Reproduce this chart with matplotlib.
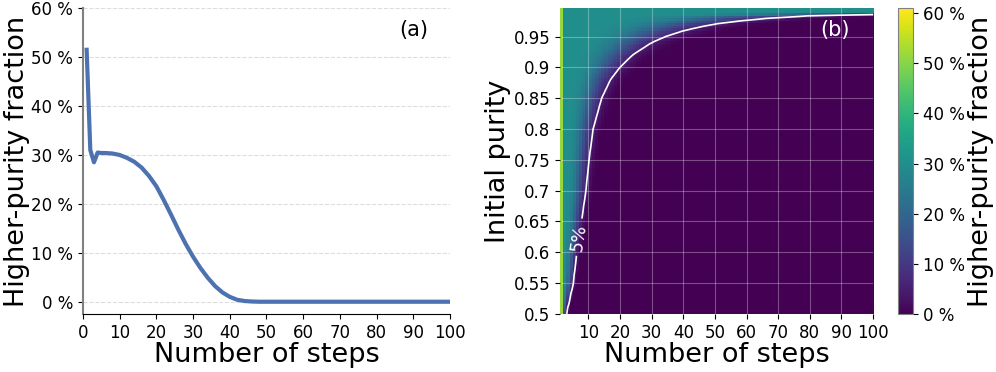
import numpy as np
import matplotlib
matplotlib.use('Agg')
import matplotlib.pyplot as plt
from matplotlib.ticker import FuncFormatter

# (a) higher-purity fraction vs number of steps (one initial purity)
steps_a = [1, 2, 3, 4, 5, 6, 8, 10, 12, 14, 16, 18, 20, 22, 24, 26, 28, 30,
           32, 34, 36, 38, 40, 42, 44, 46, 48, 50, 60, 70, 80, 90, 100]
frac_a = [0.515, 0.31, 0.285, 0.305, 0.304, 0.304, 0.303, 0.300, 0.294, 0.286,
          0.274, 0.257, 0.236, 0.208, 0.178, 0.147, 0.118, 0.092, 0.069, 0.049,
          0.032, 0.019, 0.010, 0.004, 0.0015, 0.0005, 0.0, 0.0, 0.0, 0.0, 0.0, 0.0, 0.0]

# (b) step at which the fraction falls to 5 %, per initial purity
purity_c = [0.50, 0.55, 0.60, 0.65, 0.70, 0.75, 0.80, 0.85, 0.88, 0.90, 0.92,
            0.94, 0.95, 0.96, 0.97, 0.975, 0.98, 0.985, 0.99, 0.996]
steps_5pct = [2.5, 4.7, 5.8, 7.3, 8.7, 9.7, 11.0, 13.7, 16.5, 19.5, 23.5,
              29.5, 34.0, 40.0, 49.0, 57.0, 67.0, 84.0, 140.0, 400.0]

steps_b = np.arange(1, 101)
purity_b = np.linspace(0.5, 0.996, 120)

# build the map: stretch the (a) profile so its 5 % point matches each row
ref5 = 34.0
n5 = np.interp(purity_b, purity_c, steps_5pct)
field = np.zeros((len(purity_b), len(steps_b)))
for i, n_cut in enumerate(n5):
    arg = np.maximum(steps_b * ref5 / n_cut, 5)
    field[i] = np.interp(arg, steps_a, frac_a)
    field[i, 0] = frac_a[0]

pct = FuncFormatter(lambda v, _: f'{v * 100:.0f} %')

fig = plt.figure(figsize=(9.96, 3.72), dpi=100)
ax1 = fig.add_axes([0.0833, 0.156, 0.3685, 0.822])
ax2 = fig.add_axes([0.5622, 0.156, 0.3143, 0.822])
cax = fig.add_axes([0.9019, 0.156, 0.015, 0.822])

# panel (a)
ax1.plot(steps_a, frac_a, color='#4c72b0', lw=3)
ax1.set_xlim(0, 100)
ax1.set_ylim(-0.025, 0.6)
ax1.set_xticks(range(0, 101, 10))
ax1.set_yticks(np.arange(0, 0.61, 0.1))
ax1.yaxis.set_major_formatter(pct)
ax1.grid(axis='y', linestyle='--', color='#dddddd', lw=0.8)
ax1.spines['top'].set_visible(False)
ax1.spines['right'].set_visible(False)
ax1.spines['left'].set_color('#808080')
ax1.spines['left'].set_linewidth(1.5)
ax1.tick_params(labelsize=12)
ax1.set_xlabel('Number of steps', fontsize=19.5, labelpad=0)
ax1.set_ylabel('Higher-purity fraction', fontsize=19.5, labelpad=1)
ax1.text(0.9, 0.91, '(a)', transform=ax1.transAxes, fontsize=15, ha='center')

# panel (b)
im = ax2.imshow(field, origin='lower', aspect='auto', cmap='viridis',
                extent=[1, 101, 0.5, 0.996], vmin=0, vmax=0.61,
                interpolation='nearest')
cs = ax2.contour(steps_b + 0.5, purity_b, field, levels=[0.05],
                 colors='white', linewidths=1.2)
ax2.clabel(cs, fmt={0.05: '5%'}, fontsize=12.5, manual=[(6.5, 0.625)])
ax2.set_xlim(1, 100)
ax2.set_ylim(0.5, 0.996)
ax2.set_xticks(range(10, 101, 10))
ax2.set_yticks([0.5, 0.55, 0.6, 0.65, 0.7, 0.75, 0.8, 0.85, 0.9, 0.95])
ax2.set_yticklabels(['0.5', '0.55', '0.6', '0.65', '0.7', '0.75', '0.8',
                     '0.85', '0.9', '0.95'])
ax2.grid(color='white', alpha=0.3, lw=0.8)
for s in ax2.spines.values():
    s.set_visible(False)
ax2.tick_params(labelsize=12)
ax2.set_xlabel('Number of steps', fontsize=19.5, labelpad=0)
ax2.set_ylabel('Initial purity', fontsize=19.5, labelpad=2)
ax2.text(0.88, 0.91, '(b)', transform=ax2.transAxes, fontsize=15,
         ha='center', color='white')

cb = fig.colorbar(im, cax=cax)
cb.set_ticks(np.arange(0, 0.61, 0.1))
cb.ax.yaxis.set_major_formatter(pct)
cb.ax.tick_params(labelsize=12)
cb.outline.set_edgecolor('#808080')
cb.set_label('Higher-purity fraction', fontsize=19.5, labelpad=2)

fig.savefig('out.png', dpi=100)
